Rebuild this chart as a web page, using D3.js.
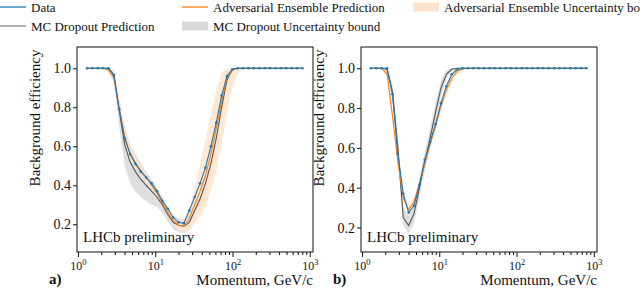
<!DOCTYPE html>
<html>
<head>
<meta charset="utf-8">
<script src="https://cdn.jsdelivr.net/npm/d3@7"></script>
<style>
  body { margin: 0; background: #fff; }
  svg text { font-family: "Liberation Serif", "DejaVu Serif", serif; fill: #111; }
</style>
</head>
<body>
<svg id="chart" width="640" height="288"></svg>
<script>
// momentum grid (GeV/c), shared by both panels
const momentum = [1.306, 1.534, 1.800, 2.114, 2.482, 2.914, 3.421, 4.017, 4.716, 5.537,
  6.501, 7.633, 8.962, 10.52, 12.35, 14.50, 17.03, 19.99, 23.47, 27.56,
  32.36, 37.99, 44.61, 52.38, 61.50, 72.21, 84.78, 99.5, 116.8, 137.2,
  161.1, 189.1, 222.1, 260.7, 306.1, 359.4, 422.0, 495.5, 581.8, 683.1, 801.8];

// panel a)
const dataA  = [1,1,1,1,1, 0.965,0.79,0.64,0.56,0.51, 0.47,0.44,0.41,0.37,0.32, 0.28,0.235,0.21,0.205,0.27,
  0.34,0.41,0.49,0.60,0.72, 0.86,0.96,0.995,1,1, 1,1,1,1,1, 1,1,1,1,1, 1];
const advA   = [1,1,1,1,0.99, 0.95,0.79,0.65,0.565,0.515, 0.475,0.44,0.40,0.36,0.31, 0.26,0.22,0.195,0.19,0.23,
  0.30,0.37,0.45,0.56,0.69, 0.83,0.95,0.99,1,1, 1,1,1,1,1, 1,1,1,1,1, 1];
const mcA    = [1,1,1,1,1, 0.965,0.78,0.61,0.52,0.47, 0.43,0.40,0.37,0.34,0.30, 0.25,0.21,0.195,0.19,0.21,
  0.27,0.33,0.41,0.51,0.64, 0.80,0.94,0.995,1,1, 1,1,1,1,1, 1,1,1,1,1, 1];
const mcLoA  = [1,1,1,1,1, 0.93,0.70,0.50,0.41,0.37, 0.34,0.32,0.30,0.29,0.26, 0.215,0.175,0.16,0.155,0.17,
  0.22,0.27,0.34,0.43,0.56, 0.73,0.90,0.985,1,1, 1,1,1,1,1, 1,1,1,1,1, 1];
const mcHiA  = [1,1,1,1,1, 0.99,0.84,0.70,0.61,0.56, 0.51,0.47,0.43,0.39,0.34, 0.29,0.245,0.23,0.225,0.25,
  0.32,0.39,0.48,0.59,0.72, 0.87,0.98,1,1,1, 1,1,1,1,1, 1,1,1,1,1, 1];
const advLoA = [1,1,1,1,0.98, 0.92,0.75,0.61,0.53,0.49, 0.45,0.42,0.38,0.34,0.29, 0.24,0.20,0.17,0.16,0.17,
  0.20,0.24,0.29,0.37,0.47, 0.61,0.77,0.90,0.97,0.995, 1,1,1,1,1, 1,1,1,1,1, 1];
const advHiA = [1,1,1,1,1, 0.98,0.83,0.69,0.60,0.54, 0.50,0.46,0.42,0.38,0.33, 0.28,0.24,0.22,0.22,0.28,
  0.39,0.51,0.63,0.76,0.89, 0.98,1,1,1,1, 1,1,1,1,1, 1,1,1,1,1, 1];

// panel b)
const dataB  = [1,1,1,1,0.87, 0.57,0.37,0.275,0.31,0.415, 0.54,0.63,0.72,0.825,0.91, 0.97,0.995,1,1,1,
  1,1,1,1,1, 1,1,1,1,1, 1,1,1,1,1, 1,1,1,1,1, 1];
const advB   = [1,1,1,0.97,0.76, 0.53,0.35,0.29,0.33,0.42, 0.52,0.62,0.71,0.81,0.89, 0.95,0.985,0.997,1,1,
  1,1,1,1,1, 1,1,1,1,1, 1,1,1,1,1, 1,1,1,1,1, 1];
const mcB    = [1,1,1,0.995,0.88, 0.60,0.25,0.21,0.27,0.40, 0.53,0.65,0.78,0.90,0.97, 0.995,1,1,1,1,
  1,1,1,1,1, 1,1,1,1,1, 1,1,1,1,1, 1,1,1,1,1, 1];
const mcLoB  = [1,1,1,0.98,0.83, 0.54,0.21,0.17,0.22,0.35, 0.48,0.60,0.73,0.86,0.95, 0.985,0.995,1,1,1,
  1,1,1,1,1, 1,1,1,1,1, 1,1,1,1,1, 1,1,1,1,1, 1];
const mcHiB  = [1,1,1,1,0.92, 0.65,0.30,0.26,0.32,0.45, 0.58,0.70,0.83,0.94,0.99, 1,1,1,1,1,
  1,1,1,1,1, 1,1,1,1,1, 1,1,1,1,1, 1,1,1,1,1, 1];
const advLoB = [1,1,1,0.95,0.74, 0.51,0.33,0.27,0.31,0.40, 0.50,0.60,0.69,0.79,0.87, 0.93,0.97,0.99,1,1,
  1,1,1,1,1, 1,1,1,1,1, 1,1,1,1,1, 1,1,1,1,1, 1];
const advHiB = [1,1,1,0.99,0.78, 0.55,0.37,0.31,0.35,0.44, 0.54,0.64,0.73,0.83,0.91, 0.965,0.995,1,1,1,
  1,1,1,1,1, 1,1,1,1,1, 1,1,1,1,1, 1,1,1,1,1, 1];

const yTicks = [0.2, 0.4, 0.6, 0.8, 1.0];
const xTicks = [1, 10, 100, 1000];
const legendLabels = ["Data", "MC Dropout Prediction", "Adversarial Ensemble Prediction",
  "MC Dropout Uncertainty bound", "Adversarial Ensemble Uncertainty bound"];

const colors = {data: "#1f77b4", adv: "#ff7f0e", mc: "#555555", mcBand: "#d9d9d9", advBand: "#fde3cc"};

const svg = d3.select("#chart");

const panels = [
  {tag: "a)", left: 77, right: 313, ydom: [0.058, 1.109], data: dataA, adv: advA, mc: mcA,
   mcLo: mcLoA, mcHi: mcHiA, advLo: advLoA, advHi: advHiA},
  {tag: "b)", left: 361, right: 597, ydom: [0.077, 1.107], data: dataB, adv: advB, mc: mcB,
   mcLo: mcLoB, mcHi: mcHiB, advLo: advLoB, advHi: advHiB}
];
const plotTop = 47, plotBottom = 252;

function supTick(sel, v) {
  const e = Math.round(Math.log10(v));
  sel.text(null);
  sel.append("tspan").text("10");
  sel.append("tspan").attr("dy", -5).attr("font-size", 8.5).text(e);
}

panels.forEach(p => {
  const x = d3.scaleLog().domain([0.971, 1100]).range([p.left, p.right]);
  const y = d3.scaleLinear().domain(p.ydom).range([plotBottom, plotTop]);
  const g = svg.append("g");

  const area = (lo, hi) => d3.area()
    .x((d, i) => x(momentum[i]))
    .y0((d, i) => y(lo[i]))
    .y1((d, i) => y(hi[i]));
  const line = arr => d3.line()
    .x((d, i) => x(momentum[i]))
    .y((d, i) => y(arr[i]));

  g.append("path").datum(momentum).attr("d", area(p.mcLo, p.mcHi))
    .attr("fill", colors.mcBand).attr("opacity", 0.85);
  g.append("path").datum(momentum).attr("d", area(p.advLo, p.advHi))
    .attr("fill", colors.advBand).attr("opacity", 0.8);

  g.append("path").datum(momentum).attr("d", line(p.mc))
    .attr("fill", "none").attr("stroke", colors.mc).attr("stroke-width", 1.1);
  g.append("path").datum(momentum).attr("d", line(p.adv))
    .attr("fill", "none").attr("stroke", colors.adv).attr("stroke-width", 1.1);
  g.append("path").datum(momentum).attr("d", line(p.data))
    .attr("fill", "none").attr("stroke", colors.data).attr("stroke-width", 1.1);
  g.selectAll("circle.pt").data(p.data).enter().append("circle")
    .attr("cx", (d, i) => x(momentum[i]))
    .attr("cy", d => y(d))
    .attr("r", 1.3)
    .attr("fill", colors.data);

  // frame
  g.append("rect").attr("x", p.left).attr("y", plotTop)
    .attr("width", p.right - p.left).attr("height", plotBottom - plotTop)
    .attr("fill", "none").attr("stroke", "#111").attr("stroke-width", 1);

  // x axis
  const xAxis = d3.axisBottom(x).tickValues(xTicks).tickSize(5).tickFormat(() => "");
  const gx = g.append("g").attr("transform", `translate(0,${plotBottom})`).call(xAxis);
  gx.select(".domain").remove();
  gx.selectAll("line").attr("stroke", "#111");
  gx.selectAll(".tick").append("text")
    .attr("y", 18).attr("text-anchor", "middle").attr("font-size", 12)
    .each(function(d) { supTick(d3.select(this), d); });
  const minors = [];
  [1, 10, 100].forEach(dec => { for (let k = 2; k <= 9; k++) minors.push(dec * k); });
  const gm = g.append("g").attr("transform", `translate(0,${plotBottom})`)
    .call(d3.axisBottom(x).tickValues(minors).tickSize(3).tickFormat(""));
  gm.select(".domain").remove();
  gm.selectAll("line").attr("stroke", "#111");

  // y axis
  const gy = g.append("g").attr("transform", `translate(${p.left},0)`)
    .call(d3.axisLeft(y).tickValues(yTicks).tickSize(4).tickFormat(d3.format(".1f")));
  gy.select(".domain").remove();
  gy.selectAll("line").attr("stroke", "#111");
  gy.selectAll("text").attr("font-size", 14).attr("fill", "#111")
    .attr("font-family", "Liberation Serif, serif").attr("x", -6);

  g.append("text").attr("transform", `translate(${p.left - 37},118) rotate(-90)`)
    .attr("text-anchor", "middle").attr("font-size", 15).text("Background efficiency");

  g.append("text").attr("x", p.right).attr("y", 285).attr("text-anchor", "end")
    .attr("font-size", 15).text("Momentum, GeV/c");
  g.append("text").attr("x", p.left - 28).attr("y", 284).attr("font-size", 15)
    .attr("font-weight", "bold").text(p.tag);

  g.append("text").attr("x", p.left + 6).attr("y", 242).attr("font-size", 15)
    .text("LHCb preliminary");
});

// legend
const leg = svg.append("g").attr("font-size", 13);
const items = [
  {label: legendLabels[0], x: 0, y: 7, kind: "line", color: colors.data},
  {label: legendLabels[1], x: 0, y: 26, kind: "line", color: "#888"},
  {label: legendLabels[2], x: 182, y: 7, kind: "line", color: colors.adv},
  {label: legendLabels[3], x: 182, y: 26, kind: "patch", color: colors.mcBand},
  {label: legendLabels[4], x: 413, y: 7, kind: "patch", color: colors.advBand}
];
items.forEach(it => {
  if (it.kind === "line") {
    leg.append("line").attr("x1", it.x).attr("x2", it.x + 26).attr("y1", it.y).attr("y2", it.y)
      .attr("stroke", it.color).attr("stroke-width", 1.3);
  } else {
    leg.append("rect").attr("x", it.x).attr("y", it.y - 4.5).attr("width", 26).attr("height", 9)
      .attr("fill", it.color);
  }
  leg.append("text").attr("x", it.x + 31).attr("y", it.y + 4.5).text(it.label);
});
</script>
</body>
</html>
